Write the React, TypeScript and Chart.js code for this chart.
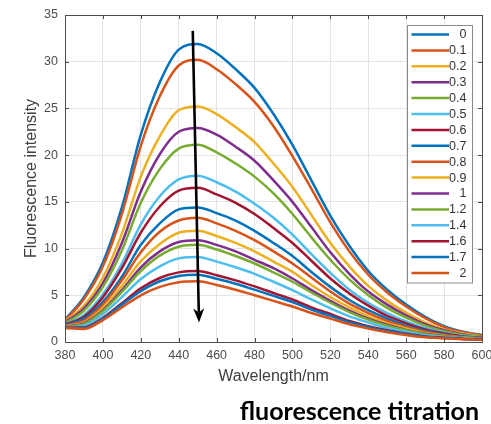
import React, { useEffect, useRef } from 'react';
import { Chart, registerables } from 'chart.js';

Chart.register(...registerables);

const WAVELENGTHS = [380, 390, 400, 410, 420, 430, 440, 450, 460, 470, 480, 490, 500, 510, 520, 530, 540, 550, 560, 570, 580, 590, 600];

const S_0 = [2.4, 4.8, 8.5, 14.4, 22.2, 27.8, 31.3, 31.9, 30.9, 29.2, 27.2, 24.4, 21.1, 17.3, 13.5, 10.3, 7.6, 5.6, 4.0, 2.7, 1.7, 1.1, 0.75];
const S_01 = [2.3, 4.6, 8.1, 13.7, 21.0, 26.3, 29.6, 30.2, 29.2, 27.6, 25.7, 23.1, 19.9, 16.4, 12.8, 9.7, 7.2, 5.3, 3.8, 2.55, 1.6, 1.05, 0.7];
const S_02 = [2.2, 3.9, 6.9, 11.6, 17.7, 22.0, 24.8, 25.2, 24.4, 23.0, 21.4, 19.1, 16.6, 13.6, 10.6, 8.1, 6.0, 4.4, 3.15, 2.1, 1.35, 0.9, 0.6];
const S_03 = [2.1, 3.6, 6.3, 10.6, 16.1, 20.1, 22.5, 22.9, 22.2, 20.9, 19.4, 17.3, 15.0, 12.3, 9.6, 7.3, 5.4, 4.0, 2.85, 1.9, 1.25, 0.8, 0.55];
const S_04 = [2.0, 3.35, 5.9, 9.8, 14.9, 18.5, 20.7, 21.1, 20.3, 19.1, 17.7, 15.9, 13.7, 11.2, 8.8, 6.7, 5.0, 3.65, 2.6, 1.75, 1.15, 0.75, 0.55];
const S_05 = [1.9, 2.9, 5.1, 8.4, 12.6, 15.6, 17.4, 17.8, 17.1, 16.1, 14.8, 13.3, 11.5, 9.4, 7.4, 5.6, 4.2, 3.1, 2.2, 1.5, 1.0, 0.65, 0.47];
const S_06 = [1.85, 2.7, 4.8, 7.9, 11.7, 14.5, 16.2, 16.5, 15.8, 14.9, 13.7, 12.2, 10.6, 8.7, 6.8, 5.2, 3.9, 2.8, 2.0, 1.35, 0.9, 0.6, 0.45];
const S_07 = [1.8, 2.5, 4.3, 7.0, 10.4, 12.7, 14.2, 14.4, 13.8, 13.0, 11.9, 10.6, 9.2, 7.5, 5.9, 4.5, 3.4, 2.5, 1.75, 1.2, 0.8, 0.55, 0.4];
const S_08 = [1.75, 2.3, 4.0, 6.6, 9.6, 11.8, 13.0, 13.3, 12.7, 11.9, 10.9, 9.7, 8.4, 6.9, 5.4, 4.1, 3.1, 2.25, 1.6, 1.1, 0.75, 0.5, 0.38];
const S_09 = [1.7, 2.1, 3.65, 6.0, 8.65, 10.5, 11.7, 11.9, 11.35, 10.6, 9.7, 8.6, 7.5, 6.1, 4.8, 3.7, 2.75, 2.0, 1.45, 0.97, 0.68, 0.47, 0.36];
const S_10 = [1.65, 2.0, 3.4, 5.55, 8.0, 9.7, 10.7, 10.9, 10.4, 9.7, 8.8, 7.9, 6.8, 5.55, 4.4, 3.35, 2.5, 1.85, 1.3, 0.88, 0.62, 0.44, 0.34];
const S_12 = [1.64, 1.9, 3.3, 5.35, 7.6, 9.25, 10.2, 10.4, 9.9, 9.2, 8.4, 7.45, 6.45, 5.3, 4.2, 3.2, 2.4, 1.75, 1.25, 0.84, 0.6, 0.42, 0.33];
const S_14 = [1.6, 1.75, 3.0, 4.8, 6.75, 8.1, 8.95, 9.1, 8.6, 8.0, 7.3, 6.45, 5.55, 4.55, 3.6, 2.75, 2.1, 1.5, 1.1, 0.72, 0.53, 0.38, 0.3];
const S_16 = [1.54, 1.55, 2.6, 4.15, 5.75, 6.85, 7.45, 7.6, 7.15, 6.6, 5.95, 5.25, 4.55, 3.7, 3.0, 2.25, 1.7, 1.25, 0.89, 0.6, 0.46, 0.33, 0.27];
const S_17 = [1.52, 1.49, 2.5, 4.0, 5.45, 6.5, 7.07, 7.2, 6.77, 6.24, 5.6, 4.94, 4.27, 3.48, 2.8, 2.13, 1.62, 1.17, 0.84, 0.56, 0.43, 0.32, 0.26];
const S_20 = [1.5, 1.4, 2.35, 3.7, 5.0, 5.9, 6.4, 6.5, 6.1, 5.6, 5.0, 4.4, 3.8, 3.1, 2.5, 1.9, 1.45, 1.05, 0.75, 0.5, 0.4, 0.3, 0.25];

const SERIES_LABELS = ['0', '0.1', '0.2', '0.3', '0.4', '0.5', '0.6', '0.7', '0.8', '0.9', '1', '1.2', '1.4', '1.6', '1.7', '2'];
const SERIES_VALUES = [S_0, S_01, S_02, S_03, S_04, S_05, S_06, S_07, S_08, S_09, S_10, S_12, S_14, S_16, S_17, S_20];
const PALETTE = ['#0072BD', '#D95319', '#EDB120', '#7E2F8E', '#77AC30', '#4DBEEE', '#A2142F'];

const X_MIN = 380;
const X_MAX = 600;
const X_STEP = 20;
const Y_MIN = 0;
const Y_MAX = 35;
const Y_STEP = 5;

const X_TITLE = 'Wavelength/nm';
const Y_TITLE = 'Fluorescence intensity';
const CAPTION = 'fluorescence titration';

// arrow annotation in data coordinates [wavelength, intensity]
const ARROW_START = [447.4, 33.3];
const ARROW_END = [450.7, 2.1];

const FONT = "'Liberation Sans', Arial, Helvetica, sans-serif";

const framePlugin = {
  id: 'frame',
  afterDatasetsDraw(chart: any) {
    const { ctx, chartArea } = chart;
    const { left, right, top, bottom } = chartArea;
    const al = (v: number) => Math.round(v) + 0.5;
    ctx.save();
    ctx.strokeStyle = '#4d4d4d';
    ctx.lineWidth = 1;
    ctx.strokeRect(al(left), al(top), Math.round(right) - Math.round(left), Math.round(bottom) - Math.round(top));
    const tl = 4;
    ctx.beginPath();
    const xs = chart.scales.x;
    xs.ticks.forEach((t: any) => {
      const px = al(xs.getPixelForValue(t.value));
      ctx.moveTo(px, bottom);
      ctx.lineTo(px, bottom - tl);
      ctx.moveTo(px, top);
      ctx.lineTo(px, top + tl);
    });
    const ys = chart.scales.y;
    ys.ticks.forEach((t: any) => {
      const py = al(ys.getPixelForValue(t.value));
      ctx.moveTo(left, py);
      ctx.lineTo(left + tl, py);
      ctx.moveTo(right, py);
      ctx.lineTo(right - tl, py);
    });
    ctx.stroke();

    // arrow annotation
    const x1 = xs.getPixelForValue(ARROW_START[0]);
    const y1 = ys.getPixelForValue(ARROW_START[1]);
    const x2 = xs.getPixelForValue(ARROW_END[0]);
    const y2 = ys.getPixelForValue(ARROW_END[1]);
    const len = Math.hypot(x2 - x1, y2 - y1);
    const dx = (x2 - x1) / len;
    const dy = (y2 - y1) / len;
    const headLen = 14;
    const headHalf = 5.5;
    const notch = 10;
    ctx.strokeStyle = '#000';
    ctx.fillStyle = '#000';
    ctx.lineWidth = 2.6;
    ctx.beginPath();
    ctx.moveTo(x1, y1);
    ctx.lineTo(x2 - dx * notch, y2 - dy * notch);
    ctx.stroke();
    ctx.beginPath();
    ctx.moveTo(x2, y2);
    ctx.lineTo(x2 - dx * headLen - dy * headHalf, y2 - dy * headLen + dx * headHalf);
    ctx.lineTo(x2 - dx * notch, y2 - dy * notch);
    ctx.lineTo(x2 - dx * headLen + dy * headHalf, y2 - dy * headLen - dx * headHalf);
    ctx.closePath();
    ctx.fill();
    ctx.restore();
  },
  afterDraw(chart: any) {
    const { ctx, chartArea } = chart;
    const bx = Math.round(chartArea.right) - 75 + 0.5;
    const by = Math.round(chartArea.top) + 10 + 0.5;
    const bw = 65;
    const rowH = 15.9;
    const n = chart.data.datasets.length;
    const bh = 9 + rowH * (n - 1) + 10;
    ctx.save();
    ctx.fillStyle = '#ffffff';
    ctx.fillRect(bx, by, bw, bh);
    ctx.strokeStyle = '#8a8a8a';
    ctx.lineWidth = 1;
    ctx.strokeRect(bx, by, bw, bh);
    ctx.font = `12.5px ${FONT}`;
    ctx.textAlign = 'right';
    ctx.textBaseline = 'middle';
    chart.data.datasets.forEach((ds: any, i: number) => {
      const y = by + 9 + rowH * i;
      ctx.strokeStyle = ds.borderColor;
      ctx.lineWidth = 2.5;
      ctx.beginPath();
      ctx.moveTo(bx + 4, y);
      ctx.lineTo(bx + 41.5, y);
      ctx.stroke();
      ctx.fillStyle = '#333333';
      ctx.fillText(ds.label, bx + bw - 6, y + 0.5);
    });
    ctx.restore();
  },
};

export default function App() {
  const canvasRef = useRef<HTMLCanvasElement | null>(null);

  useEffect(() => {
    const canvas = canvasRef.current;
    if (!canvas) return;
    const n = SERIES_LABELS.length;
    const datasets = SERIES_LABELS.map((label, i) => ({
      label,
      data: WAVELENGTHS.map((w, j) => ({ x: w, y: SERIES_VALUES[i][j] })),
      borderColor: PALETTE[i % PALETTE.length],
      backgroundColor: PALETTE[i % PALETTE.length],
      borderWidth: 2.5,
      pointRadius: 0,
      cubicInterpolationMode: 'monotone',
      fill: false,
      order: n - i,
    }));
    const chart = new Chart(canvas, {
      type: 'line',
      data: { datasets },
      options: {
        animation: false,
        responsive: false,
        devicePixelRatio: 1,
        layout: { padding: { top: 15, right: 9, left: 0, bottom: 0 } },
        plugins: {
          legend: { display: false },
          tooltip: { enabled: false },
        },
        scales: {
          x: {
            type: 'linear',
            min: X_MIN,
            max: X_MAX,
            afterFit: (scale: any) => {
              scale.height = 82;
              scale.paddingLeft = 0;
              scale.paddingRight = 0;
            },
            ticks: {
              stepSize: X_STEP,
              padding: 6,
              color: '#4d4d4d',
              font: { family: FONT, size: 12.5 },
              maxRotation: 0,
            },
            grid: { color: '#e4e4e4', lineWidth: 1, drawTicks: false },
            border: { display: false },
            title: {
              display: true,
              text: X_TITLE,
              color: '#404040',
              font: { family: FONT, size: 16 },
              padding: { top: 0, bottom: 37.9 },
            },
          },
          y: {
            type: 'linear',
            min: Y_MIN,
            max: Y_MAX,
            afterFit: (scale: any) => {
              scale.width = 65;
              scale.paddingTop = 0;
              scale.paddingBottom = 0;
            },
            ticks: {
              stepSize: Y_STEP,
              padding: 7,
              color: '#4d4d4d',
              font: { family: FONT, size: 12.5 },
            },
            grid: { color: '#e4e4e4', lineWidth: 1, drawTicks: false },
            border: { display: false },
            title: {
              display: true,
              text: Y_TITLE,
              color: '#404040',
              font: { family: FONT, size: 16 },
              padding: { top: 21.6, bottom: 0 },
            },
          },
        },
      },
      plugins: [framePlugin],
    } as any);
    return () => {
      chart.destroy();
    };
  }, []);

  return (
    <div style={{ position: 'fixed', left: 0, top: 0, width: 491, height: 424, background: '#fff' }}>
      <canvas ref={canvasRef} width={491} height={424} style={{ width: 491, height: 424, display: 'block' }} />
      <div
        style={{
          position: 'absolute',
          right: 12,
          top: 397.8,
          font: "bold 25px Lato, 'Open Sans', sans-serif",
          lineHeight: '25px',
          color: '#000',
          whiteSpace: 'nowrap',
        }}
      >
        {CAPTION}
      </div>
    </div>
  );
}
